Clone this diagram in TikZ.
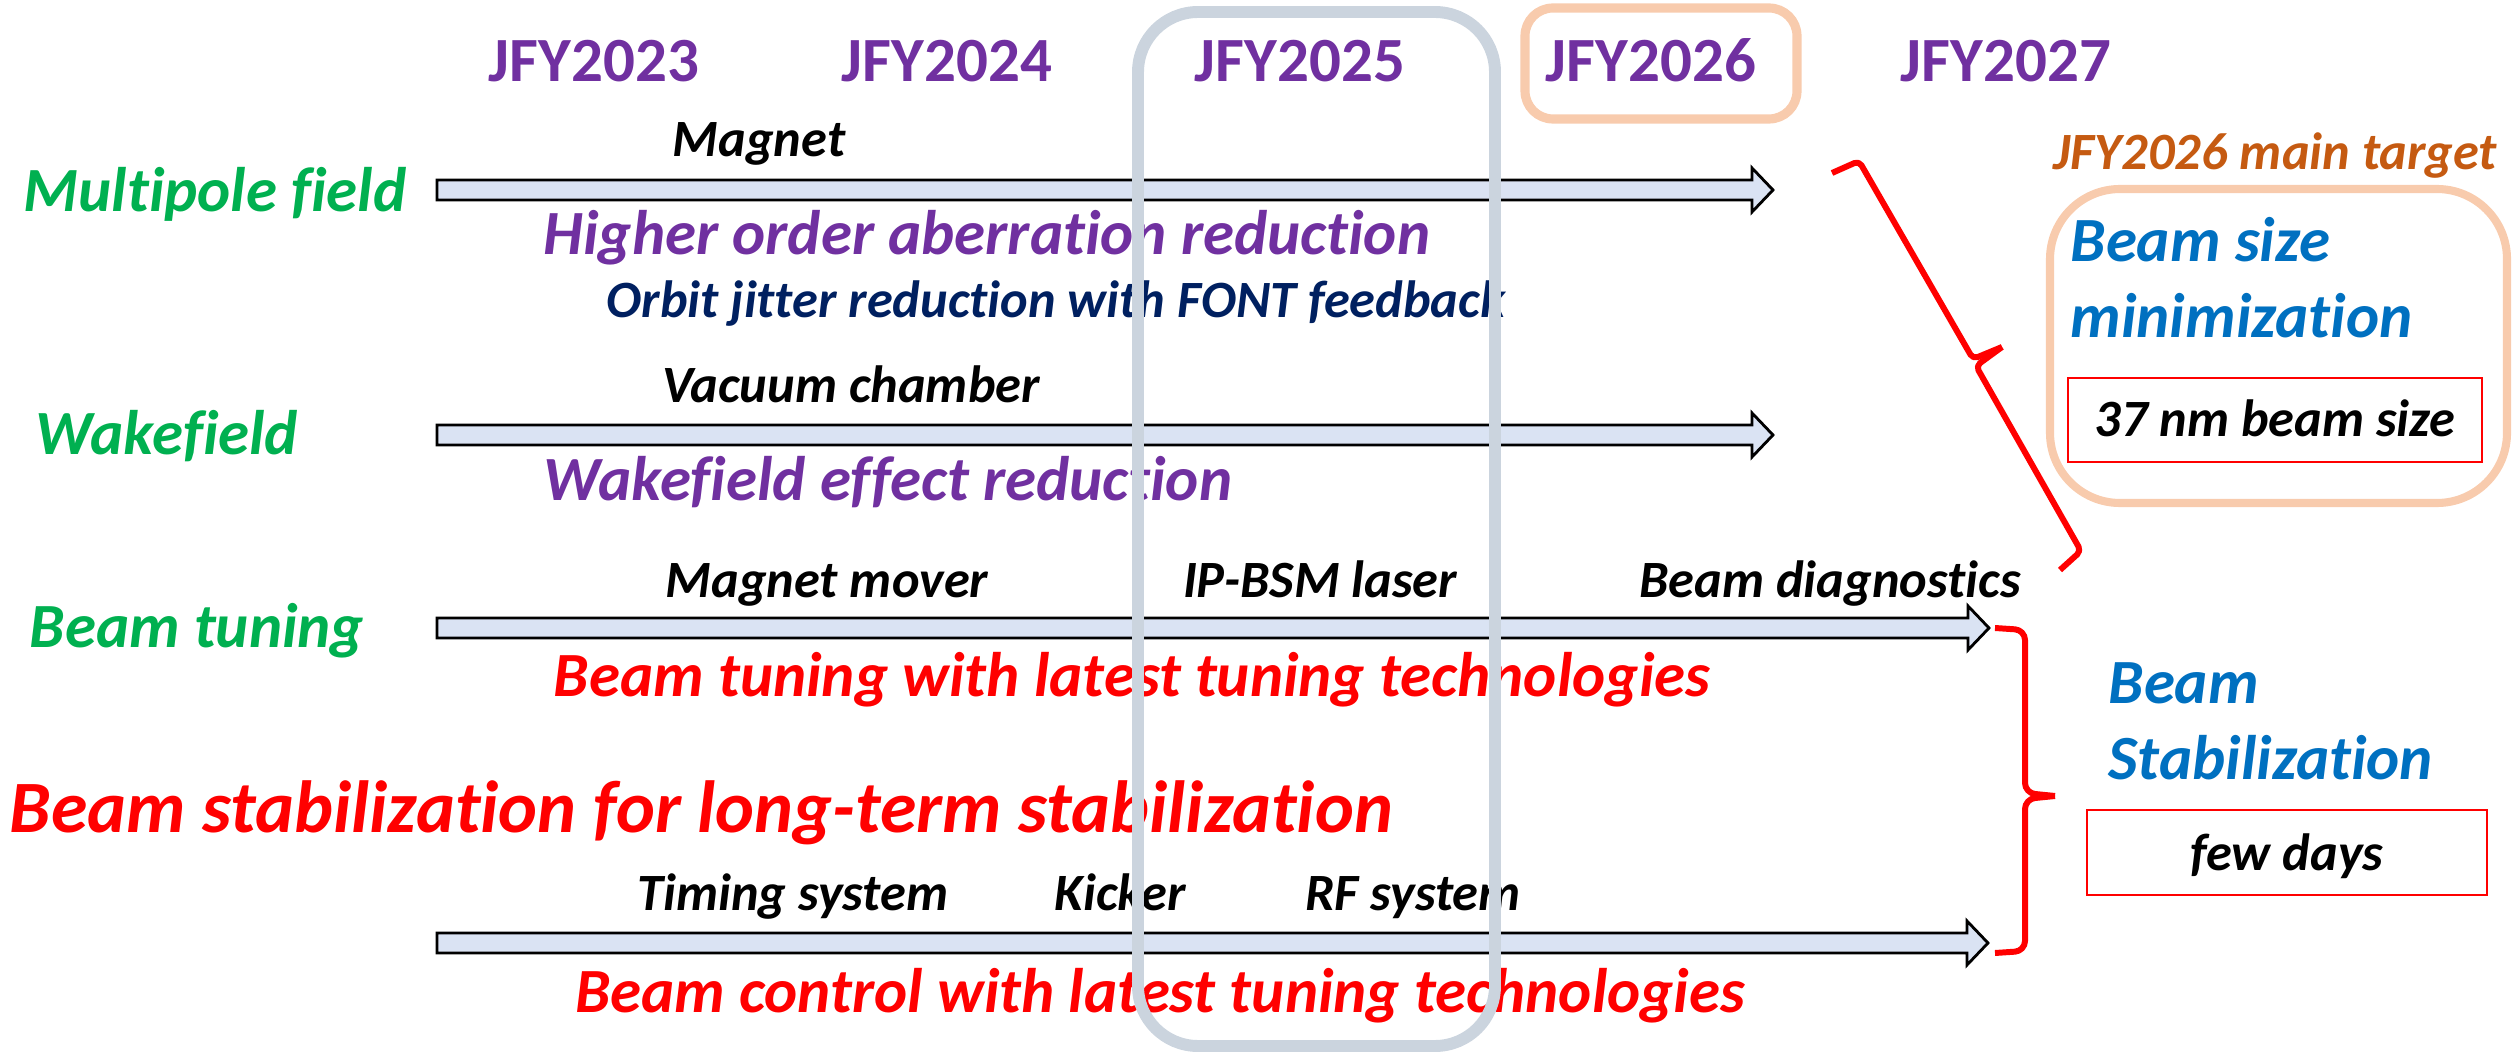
\documentclass[tikz,border=0pt]{standalone}
\usepackage{fontspec}
\setmainfont{Carlito}[Ligatures=NoCommon]
\definecolor{cgreen}{HTML}{00B050}
\definecolor{cpurple}{HTML}{7030A0}
\definecolor{cnavy}{HTML}{002060}
\definecolor{cred}{HTML}{FF0000}
\definecolor{cblue}{HTML}{0070C0}
\definecolor{corange}{HTML}{C55A11}
\definecolor{cpeach}{HTML}{F8CBAD}
\definecolor{carrow}{HTML}{DAE3F3}
\definecolor{cgray}{HTML}{CBD4DE}
\newcommand\fbig{\bfseries\fontsize{17.9pt}{20pt}\selectfont}
\newcommand\fsmall{\bfseries\itshape\fontsize{14.9pt}{17pt}\selectfont}
\newcommand\fhuge{\bfseries\itshape\fontsize{21pt}{24pt}\selectfont}
\newcommand\blkarrow[3]{%
  \draw[blkarr] (#1,#3-10) -- (#2-21,#3-10) -- (#2-21,#3-22) -- (#2,#3)
    -- (#2-21,#3+22) -- (#2-21,#3+10) -- (#1,#3+10) -- cycle;}
\tikzset{
  txt/.style={inner sep=0pt, anchor=base},
  yearlbl/.style={txt, font=\fbig, text=cpurple},
  rowlbl/.style={txt, font=\fbig\itshape, text=cgreen},
  goallbl/.style={txt, font=\fbig\itshape, text=cpurple},
  redlbl/.style={txt, font=\fbig\itshape, text=cred},
  itemlbl/.style={txt, font=\fsmall, text=black},
  bluelbl/.style={txt, anchor=base west, font=\fbig\itshape, text=cblue},
  blkarr/.style={draw=black, fill=carrow, line width=0.8pt, line join=miter},
  redbox/.style={draw=cred, line width=0.6pt},
  bracelin/.style={draw=cred, line width=1.7pt, line join=round},
}
\begin{document}
\begin{tikzpicture}[x=0.01cm, y=-0.01cm]
\useasboundingbox (0,0) rectangle (2517,1052);
% JFY2026 highlight box
\draw[cpeach, line width=2.6pt, rounded corners=0.28cm] (1525,8) rectangle (1797,119);
% years
\node[yearlbl] (y23) at (594,82) {JFY2023};
\node[yearlbl] (y24) at (947,82) {JFY2024};
\node[yearlbl] (y25) at (1300,82) {JFY2025};
\node[yearlbl] (y26) at (1651,82) {JFY2026};
\node[yearlbl] (y27) at (2006,82) {JFY2027};
% row labels
\node[rowlbl] (r1) at (215,212) {Multipole field};
\node[rowlbl] (r2) at (167,455) {Wakefield};
\node[rowlbl] (r3) at (197,648) {Beam tuning};
% arrows
\blkarrow{437}{1773}{190}
\blkarrow{437}{1773}{435}
\blkarrow{437}{1989}{628}
\blkarrow{437}{1988}{943}
% item labels
\node[itemlbl] (i1) at (759,157) {Magnet};
\node[itemlbl] (i2) at (851,403) {Vacuum chamber};
\node[itemlbl] (i3) at (827,598) {Magnet mover};
\node[itemlbl] (i4) at (1320,598) {IP-BSM laser};
\node[itemlbl] (i5) at (1830,598) {Beam diagnostics};
\node[itemlbl] (i6) at (793,910) {Timing system};
\node[itemlbl] (i7) at (1120,910) {Kicker};
\node[itemlbl] (i8) at (1413,910) {RF system};
% goals
\node[goallbl] (g1) at (987,255) {Higher order aberration reduction};
\node[txt, font=\fsmall, text=cnavy] (g2) at (1056,318) {Orbit jitter reduction with FONT feedback};
\node[goallbl] (g3) at (888,501) {Wakefield effect reduction};
\node[redlbl] (g4) at (1132,696) {Beam tuning with latest tuning technologies};
\node[txt, anchor=base west, font=\fhuge, text=cred] (g5) at (9,832) {Beam stabilization for long-term stabilization};
\node[redlbl] (g6) at (1160,1012) {Beam control with latest tuning technologies};
% main target
\node[txt, font=\fsmall, text=corange] (mt) at (2275,170) {JFY2026 main target};
\draw[cpeach, line width=2.3pt, rounded corners=0.7cm] (2050,189) rectangle (2507,503);
\node[bluelbl] (b1) at (2070,262) {Beam size};
\node[bluelbl] (b2) at (2070,338) {minimization};
\draw[redbox] (2068,378) rectangle (2482,462);
\node[itemlbl] (t1) at (2275,437) {37 nm beam size};
% stabilization
\node[bluelbl] (s1) at (2108,703) {Beam};
\node[bluelbl] (s2) at (2108,780) {Stabilization};
\draw[redbox] (2087,810) rectangle (2487,895);
\node[itemlbl] (t2) at (2287,870) {few days};
% braces
\coordinate (br1a) at (1832,173);
\coordinate (br1t) at (2002,347);
\coordinate (br1b) at (2060,570);
\draw[bracelin, rounded corners=0.05cm] (br1a) -- (1859,161) -- (1973,359) -- (br1t);
\draw[bracelin, rounded corners=0.05cm] (br1t) -- (1976,366) -- (2081,551) -- (br1b);
\coordinate (br2a) at (1995,628);
\coordinate (br2t) at (2055,796);
\coordinate (br2b) at (1995,953);
\draw[bracelin, rounded corners=0.1cm] (br2a) -- (2025,630) -- (2025,793) -- (br2t);
\draw[bracelin, rounded corners=0.1cm] (br2t) -- (2025,799) -- (2025,951) -- (br2b);
% JFY2025 box on top
\draw[cgray, line width=3.4pt, rounded corners=0.6cm] (1138,12) rectangle (1495,1046);
\end{tikzpicture}
\end{document}
